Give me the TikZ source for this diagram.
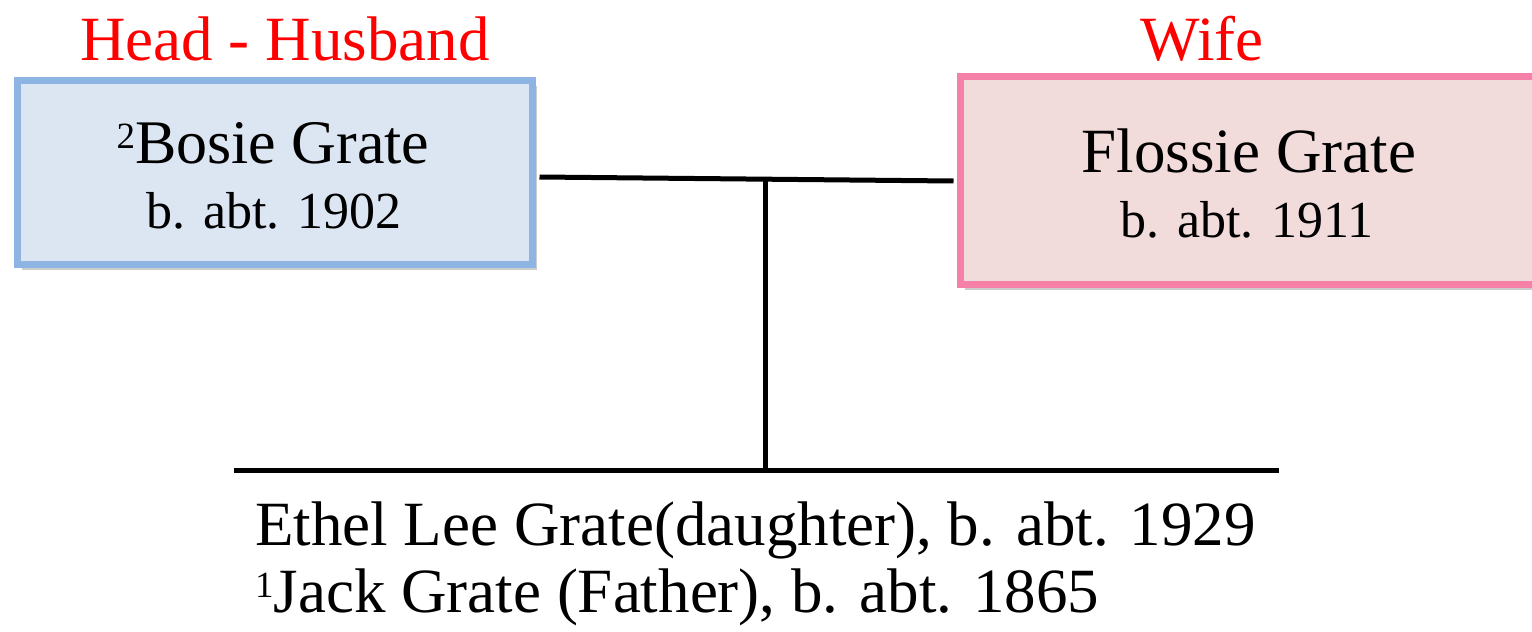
\documentclass[tikz,border=0pt]{standalone}
\usepackage{fontspec}
\setmainfont{Liberation Serif}
\usetikzlibrary{shadows,calc}
\definecolor{hbord}{HTML}{8DB4E2}
\definecolor{hfill}{HTML}{DCE6F2}
\definecolor{wbord}{HTML}{F580A8}
\definecolor{wfill}{HTML}{F2DCDB}
\definecolor{lblred}{HTML}{FF0000}
\newcommand{\supnum}[1]{\raisebox{15pt}{\fontsize{37}{40}\selectfont #1}}
\tikzset{
  personbox/.style={draw, rectangle, inner sep=0pt, line width=7pt,
    drop shadow={shadow xshift=4pt, shadow yshift=-5pt, opacity=0.2, fill=black}},
  rolelabel/.style={text=lblred, font=\fontsize{63}{67}\selectfont, inner sep=0pt, anchor=base},
  nametext/.style={font=\fontsize{62}{65}\selectfont, inner sep=0pt, anchor=base},
  datetext/.style={font=\fontsize{52}{60}\selectfont, inner sep=0pt, anchor=base},
  childtext/.style={font=\fontsize{63}{67}\selectfont, inner sep=0pt, anchor=base west},
  famline/.style={line width=5pt, black},
}
\begin{document}
\begin{tikzpicture}[x=1pt,y=-1pt]
\useasboundingbox (0,0) rectangle (1532,632);
\node[personbox, draw=hbord, fill=hfill,
      minimum width=515pt, minimum height=184pt] (H) at (275,172.5) {};
\node[personbox, draw=wbord, fill=wfill,
      minimum width=582pt, minimum height=208pt] (W) at (1251.5,180.5) {};
\node[nametext] (Hn) at (273,163) {\supnum{2}Bosie Grate};
\node[datetext] (Hd) at (274,228) {b. abt. 1902};
\node[nametext, font=\fontsize{63}{65}\selectfont] (Wn) at (1249,172) {Flossie Grate};
\node[datetext] (Wd) at (1247,237) {b. abt. 1911};
\node[rolelabel] (HL) at (285,60) {Head - Husband};
\node[rolelabel] (WL) at (1202,60) {Wife};
\coordinate (mL) at ($(H.east)+(3.5,4.5)$);
\coordinate (mR) at ($(W.west)+(-3.5,0.5)$);
\coordinate (mid) at (765,178.5);
\coordinate (cL) at (234,470.5);
\coordinate (cR) at (1279,470.5);
\coordinate (cM) at (765,470.5);
\draw[famline] (mL) -- (mR);
\draw[famline] (mid) -- (cM);
\draw[famline] (cL) -- (cR);
\node[childtext] (C1) at (255,545) {Ethel Lee Grate(daughter), b. abt. 1929};
\node[childtext] (C2) at (255,612) {\supnum{1}Jack Grate (Father), b. abt. 1865};
\end{tikzpicture}
\end{document}
